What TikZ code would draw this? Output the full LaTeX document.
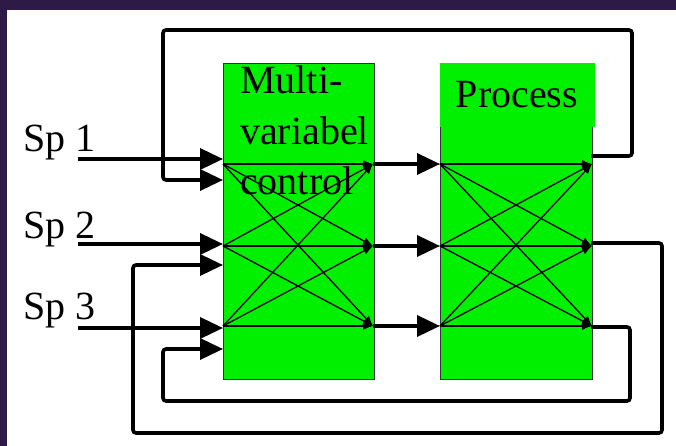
\documentclass[tikz,border=0pt]{standalone}
\usepackage{fontspec}
\setmainfont{Liberation Serif}
\usetikzlibrary{arrows.meta}
\definecolor{slidebg}{HTML}{2E1A47}
\definecolor{blockgreen}{HTML}{00F000}
\begin{document}
\begin{tikzpicture}[x=1pt,y=-1pt,
  lbl/.style={font=\fontsize{40}{50}\selectfont, inner sep=0pt, anchor=base west},
  block/.style={fill=blockgreen, draw=black!80, line width=0.8pt, anchor=north west, inner sep=0pt},
  thick link/.style={line width=3.6pt, -{Triangle[length=23pt,width=21pt]}},
  loop/.style={line width=3.6pt, rounded corners=3pt, -{Triangle[length=23pt,width=21pt]}},
  fan/.style={line width=1.3pt, -{Latex[length=10pt,width=8pt]}}]
% slide background
\fill[slidebg] (0,0) rectangle (676,446);
\fill[white] (7,10) rectangle (676,446);
\useasboundingbox (0,0) rectangle (676,446);

% controller block
\node[block, minimum width=151pt, minimum height=316pt] (mvc) at (223,63) {};
\node[lbl] (t1) at (240,94) {Multi-};
\node[lbl] (t2) at (240,145) {variabel};
\node[lbl] (t3) at (240,195) {control};

% process block: label part and body
\node[fill=blockgreen, anchor=north west, inner sep=0pt, minimum width=155pt, minimum height=64pt] (plabel) at (440,63) {};
\node[fill=blockgreen, anchor=north west, inner sep=0pt, minimum width=152pt, minimum height=252pt] (proc) at (440,127) {};
\draw[black!80, line width=0.8pt] (proc.north west) -- (proc.south west) -- (proc.south east) -- (proc.north east);
\node[lbl, anchor=base] (ptext) at (517,108) {Process};

% ports
\foreach \i/\y in {1/164,2/246,3/326}{
  \coordinate (a\i) at (223,\y);
  \coordinate (b\i) at (373,\y);
  \coordinate (c\i) at (440,\y);
  \coordinate (d\i) at (592,\y);
}

% cross-coupling inside both blocks
\foreach \i in {1,2,3}{
  \foreach \j in {1,2,3}{
    \draw[fan] (a\i) -- (b\j);
    \draw[fan] (c\i) -- (d\j);
  }
}

% controller outputs to process inputs
\foreach \i in {1,2,3}{
  \draw[thick link] (b\i) -- (c\i);
}

% setpoints
\node[lbl] (sp1) at (23,152) {Sp 1};
\node[lbl] (sp2) at (23,238) {Sp 2};
\node[lbl] (sp3) at (23,319) {Sp 3};
\coordinate (s1) at (78,159);
\coordinate (s2) at (78,244);
\coordinate (s3) at (78,328);
\coordinate (e1) at (223,159);
\coordinate (e2) at (223,244);
\coordinate (e3) at (223,328);
\foreach \i in {1,2,3}{
  \draw[thick link] (s\i) -- (e\i);
}

% feedback paths
\coordinate (o1) at (591,156);
\coordinate (o2) at (591,243);
\coordinate (o3) at (591,327);
\coordinate (f1) at (223,180);
\coordinate (f2) at (223,265);
\coordinate (f3) at (223,349);
\draw[loop] (o1) -- (632,156) -- (632,30) -- (163,30) -- (163,180) -- (f1);
\draw[loop] (o2) -- (662,243) -- (662,433) -- (133,433) -- (133,265) -- (f2);
\draw[loop] (o3) -- (630,327) -- (630,401) -- (163,401) -- (163,349) -- (f3);
\end{tikzpicture}
\end{document}
